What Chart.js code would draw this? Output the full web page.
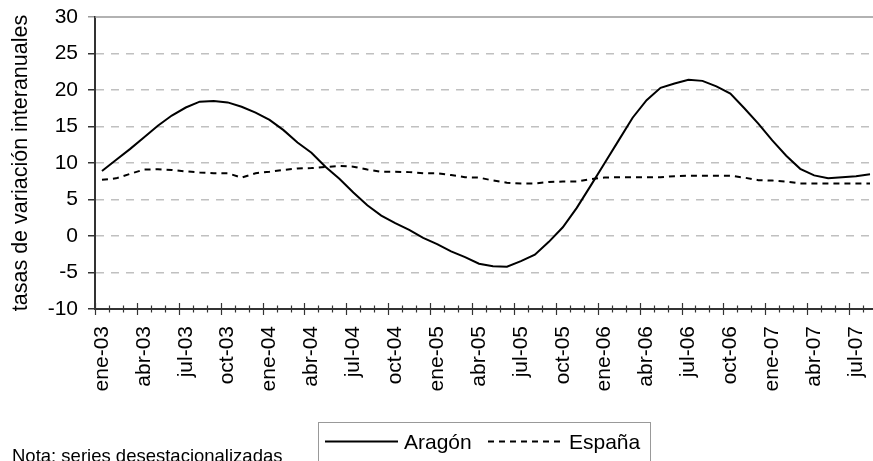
<!DOCTYPE html>
<html>
<head>
<meta charset="utf-8">
<script src="https://cdn.jsdelivr.net/npm/chart.js@4/dist/chart.umd.min.js"></script>
<style>
  html, body { margin: 0; padding: 0; background: #fff; overflow: hidden; }
  #wrap { width: 877px; height: 461px; }
</style>
</head>
<body>
<div id="wrap"><canvas id="chart" width="877" height="461"></canvas></div>
<script>
// Months, ene-03 .. ago-07
const MONTHS = [
  "ene-03", "feb-03", "mar-03", "abr-03", "may-03", "jun-03", "jul-03", "ago-03", "sep-03", "oct-03", "nov-03", "dic-03",
  "ene-04", "feb-04", "mar-04", "abr-04", "may-04", "jun-04", "jul-04", "ago-04", "sep-04", "oct-04", "nov-04", "dic-04",
  "ene-05", "feb-05", "mar-05", "abr-05", "may-05", "jun-05", "jul-05", "ago-05", "sep-05", "oct-05", "nov-05", "dic-05",
  "ene-06", "feb-06", "mar-06", "abr-06", "may-06", "jun-06", "jul-06", "ago-06", "sep-06", "oct-06", "nov-06", "dic-06",
  "ene-07", "feb-07", "mar-07", "abr-07", "may-07", "jun-07", "jul-07", "ago-07"
];

const ARAGON = [
  8.9, 10.4, 11.9, 13.5, 15.1, 16.5, 17.6, 18.4, 18.5, 18.3, 17.7, 16.9,
  15.9, 14.5, 12.8, 11.4, 9.5, 7.85, 5.95, 4.2, 2.8, 1.75, 0.85, -0.25,
  -1.1, -2.1, -2.9, -3.8, -4.15, -4.2, -3.45, -2.55, -0.8, 1.2, 3.85, 6.9,
  10.0, 13.1, 16.2, 18.6, 20.3, 20.9, 21.4, 21.25, 20.5, 19.5, 17.5, 15.4,
  13.1, 11.0, 9.2, 8.3, 7.9, 8.05, 8.2, 8.45
];

const ESPANA = [
  7.7, 7.9, 8.5, 9.1, 9.15, 9.05, 8.85, 8.7, 8.6, 8.6, 8.0, 8.6,
  8.8, 9.05, 9.25, 9.3, 9.45, 9.6, 9.5, 9.1, 8.8, 8.8, 8.75, 8.6,
  8.6, 8.35, 8.05, 8.0, 7.6, 7.3, 7.2, 7.2, 7.4, 7.45, 7.45, 7.8,
  8.0, 8.05, 8.05, 8.05, 8.05, 8.2, 8.25, 8.25, 8.25, 8.25, 8.0, 7.65,
  7.6, 7.45, 7.2, 7.2, 7.2, 7.2, 7.2, 7.2
];

const Y_MIN = -10;
const Y_MAX = 30;
const Y_STEP = 5;

const FONT = "'Liberation Sans', Arial, sans-serif";

// top frame line, cross ticks on the x axis, boxed legend and footnote
const extras = {
  id: "extras",
  afterDraw(chart) {
    const ctx = chart.ctx;
    const area = chart.chartArea;
    const x = chart.scales.x;
    const n = MONTHS.length;
    const bin = (x.right - x.left) / n;

    ctx.save();
    ctx.strokeStyle = "#999";
    ctx.lineWidth = 1.5;
    ctx.beginPath();
    ctx.moveTo(area.left, area.top);
    ctx.lineTo(chart.width, area.top);
    ctx.stroke();

    ctx.strokeStyle = "#333";
    ctx.lineWidth = 1.2;
    for (let i = 0; i <= n; i++) {
      const px = Math.round(x.left + i * bin) + 0.5;
      const len = i % 3 === 0 ? 6 : 3.5;
      ctx.beginPath();
      ctx.moveTo(px, area.bottom - len);
      ctx.lineTo(px, area.bottom + len);
      ctx.stroke();
    }

    // legend box
    ctx.strokeStyle = "#999";
    ctx.lineWidth = 1;
    ctx.strokeRect(318.5, 422.5, 332, 60);

    const ly = 441.5;
    chart.data.datasets.forEach((ds, k) => {
      const x0 = k === 0 ? 325 : 488;
      const x1 = k === 0 ? 398 : 563;
      ctx.strokeStyle = ds.borderColor;
      ctx.lineWidth = ds.borderWidth;
      ctx.setLineDash(ds.borderDash || []);
      ctx.beginPath();
      ctx.moveTo(x0, ly);
      ctx.lineTo(x1, ly);
      ctx.stroke();
      ctx.setLineDash([]);
      ctx.fillStyle = "#000";
      ctx.font = "21px " + FONT;
      ctx.textBaseline = "alphabetic";
      ctx.fillText(ds.label, x1 + 6, 448.5);
    });

    ctx.font = "18.5px " + FONT;
    ctx.fillStyle = "#000";
    ctx.fillText("Nota: series desestacionalizadas", 12, 462);
    ctx.restore();
  }
};

function buildConfig() {
  return {
    type: "line",
    data: {
      labels: MONTHS,
      datasets: [
        {
          label: "Aragón",
          data: ARAGON,
          borderColor: "#000",
          borderWidth: 2,
          pointRadius: 0,
          tension: 0,
          fill: false
        },
        {
          label: "España",
          data: ESPANA,
          borderColor: "#000",
          borderWidth: 2,
          borderDash: [6, 5],
          pointRadius: 0,
          tension: 0,
          fill: false
        }
      ]
    },
    options: {
      responsive: false,
      animation: false,
      layout: { padding: { top: 17, left: 0, right: 0, bottom: 52 } },
      scales: {
        x: {
          type: "category",
          offset: true,
          grid: { display: false, drawTicks: false, offset: true },
          border: { display: true, color: "#333", width: 2 },
          ticks: {
            autoSkip: false,
            minRotation: 90,
            maxRotation: 90,
            padding: 17,
            color: "#000",
            font: { family: FONT, size: 21 },
            callback: (v, i) => (i % 3 === 0 ? MONTHS[i] : "")
          },
          afterFit: (s) => {
            s.height = 100;
            s.paddingLeft = 0;
            s.paddingRight = 0;
          }
        },
        y: {
          min: Y_MIN,
          max: Y_MAX,
          ticks: {
            stepSize: Y_STEP,
            padding: 10,
            color: "#000",
            font: { family: FONT, size: 21 }
          },
          grid: {
            color: (c) => (c.tick && (c.tick.value === Y_MAX || c.tick.value === Y_MIN) ? "rgba(0,0,0,0)" : "#c0c0c0"),
            tickColor: (c) => (c.tick && c.tick.value === Y_MAX ? "#999" : "#333"),
            tickLength: 7,
            lineWidth: 1.5
          },
          border: {
            display: true,
            color: "#333",
            width: 2,
            dash: [8, 7]
          },
          title: {
            display: true,
            text: "tasas de variación interanuales",
            color: "#000",
            font: { family: FONT, size: 21.5 },
            padding: { top: 8, bottom: 0 }
          },
          afterFit: (s) => {
            s.width = 95;
            s.paddingTop = 0;
            s.paddingBottom = 0;
          }
        }
      },
      plugins: {
        legend: { display: false },
        tooltip: { enabled: false }
      }
    },
    plugins: [extras]
  };
}

document.addEventListener("DOMContentLoaded", () => {
  const ctx = document.getElementById("chart").getContext("2d");
  new Chart(ctx, buildConfig());
});
</script>
</body>
</html>
